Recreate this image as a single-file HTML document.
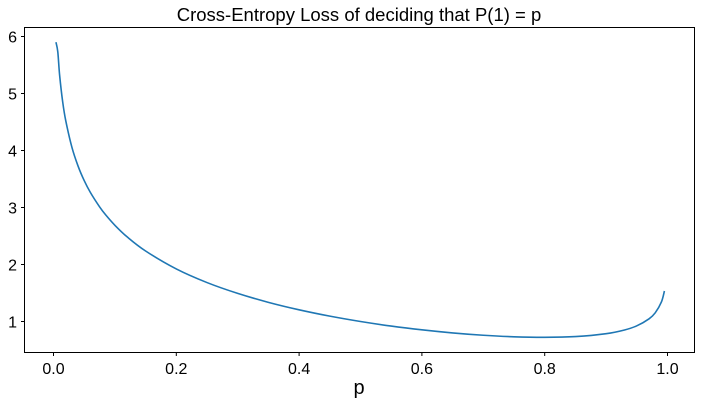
<!DOCTYPE html>
<html><head><meta charset="utf-8"><style>
body{margin:0;background:#fff;}
svg{display:block;font-family:"Liberation Sans","DejaVu Sans",sans-serif;}
</style></head><body>
<svg id="chart" width="701" height="404">
<text x="359" y="21" font-size="18.5" text-anchor="middle" fill="#000">Cross-Entropy Loss of deciding that P(1) = p</text>
<g id="xticks"></g>
<g id="yticks"></g>
<path id="curve" fill="none" stroke="#1f77b4" stroke-width="1.6"></path>
<rect x="24.5" y="27.5" width="670" height="325" fill="none" stroke="#000" stroke-width="1"></rect>
<text x="359" y="394" font-size="20" text-anchor="middle" fill="#000">p</text>
</svg>
<script>
const pValues=[0.004,0.007,0.01,0.015,0.02,0.03,0.04,0.05,0.06,0.075,0.085,0.1,0.12,0.15,0.2,0.25,0.3,0.35,0.4,0.45,0.5,0.55,0.6,0.65,0.7,0.75,0.8,0.85,0.9,0.93,0.95,0.97,0.98,0.99,0.995];
const lossValues=[5.9,5.73,5.318,4.85,4.521,4.056,3.727,3.472,3.265,3.012,2.87,2.688,2.484,2.237,1.922,1.683,1.493,1.336,1.205,1.094,1.0,0.92,0.854,0.8,0.759,0.732,0.722,0.735,0.786,0.851,0.924,1.047,1.152,1.34,1.535];
const xTickLabels=["0.0","0.2","0.4","0.6","0.8","1.0"];
const xTickValues=[0,0.2,0.4,0.6,0.8,1.0];
const yTickLabels=["1","2","3","4","5","6"];
const yTickValues=[1,2,3,4,5,6];

const xs=v=>53.5+v*614;
const ys=v=>321.5-(v-1)*57;
const NS="http://www.w3.org/2000/svg";
const xg=document.getElementById('xticks'), yg=document.getElementById('yticks');
xTickValues.forEach((v,i)=>{
  const l=document.createElementNS(NS,'line');
  l.setAttribute('x1',xs(v));l.setAttribute('x2',xs(v));l.setAttribute('y1',352.5);l.setAttribute('y2',356);l.setAttribute('stroke','#000');
  
  
  xg.appendChild(l);
  const t=document.createElementNS(NS,'text');
  t.setAttribute('x',xs(v));t.setAttribute('y',374);t.setAttribute('font-size','16');t.setAttribute('text-anchor','middle');
  t.textContent=xTickLabels[i];
  
  
  xg.appendChild(t);
});
yTickValues.forEach((v,i)=>{
  const l=document.createElementNS(NS,'line');
  l.setAttribute('x1',21);l.setAttribute('x2',24.5);l.setAttribute('y1',ys(v));l.setAttribute('y2',ys(v));l.setAttribute('stroke','#000');
  
  
  yg.appendChild(l);
  const t=document.createElementNS(NS,'text');
  t.setAttribute('x',17);t.setAttribute('y',ys(v)+6);t.setAttribute('font-size','16');t.setAttribute('text-anchor','end');
  t.textContent=yTickLabels[i];
  
  
  yg.appendChild(t);
});
const pts=pValues.map((p,i)=>[xs(p),ys(lossValues[i])]);
let d='M'+pts[0][0]+','+pts[0][1];
for(let i=0;i<pts.length-1;i++){
  const p0=pts[Math.max(0,i-1)],p1=pts[i],p2=pts[i+1],p3=pts[Math.min(pts.length-1,i+2)];
  const c1=[p1[0]+(p2[0]-p0[0])/6,p1[1]+(p2[1]-p0[1])/6];
  const c2=[p2[0]-(p3[0]-p1[0])/6,p2[1]-(p3[1]-p1[1])/6];
  d+=` C${c1[0]},${c1[1]} ${c2[0]},${c2[1]} ${p2[0]},${p2[1]}`;
}
document.getElementById('curve').setAttribute('d',d);
</script>
</body></html>
